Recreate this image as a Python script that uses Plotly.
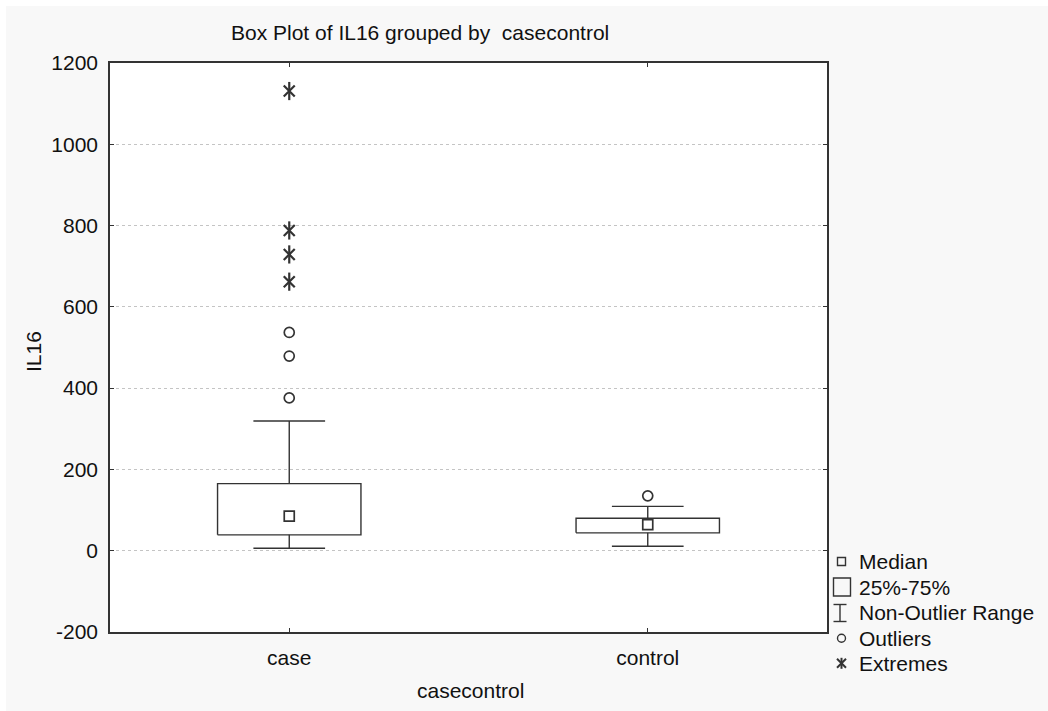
import plotly.graph_objects as go

# Group labels and summary statistics of IL16 per group
categories = ["case", "control"]
whisker_low = [6, 11]
q1 = [39, 44]
median = [85, 64]
q3 = [165, 80]
whisker_high = [319, 109]
outliers = {"case": [376, 479, 537], "control": [135]}
extremes = {"case": [662, 729, 788, 1131], "control": []}

y_ticks = [-200, 0, 200, 400, 600, 800, 1000, 1200]
y_tick_text = ["-200", "0", "200", "400", "600", "800", "1000", "1200"]

INK = "#333333"
TXT = "#111111"
FONT = "Liberation Sans, Arial, sans-serif"
FS = 21
BOX_HALF = 0.2   # half box width in category units
CAP_HALF = 0.1   # half whisker cap width

# plot-area geometry in pixels
W, H = 1048, 711
L, R, T, B = 110, 827, 63, 632


def px_x(px):
    return (px - L) / (R - L)


def px_y(py):
    return (B - py) / (B - T)


fig = go.Figure()

# boxes (25%-75%) and whiskers with caps
bx, by, wx, wy = [], [], [], []
for i, c in enumerate(categories):
    bx += [i - BOX_HALF, i + BOX_HALF, i + BOX_HALF, i - BOX_HALF, i - BOX_HALF, None]
    by += [q1[i], q1[i], q3[i], q3[i], q1[i], None]
    wx += [i, i, None, i, i, None,
           i - CAP_HALF, i + CAP_HALF, None, i - CAP_HALF, i + CAP_HALF, None]
    wy += [q3[i], whisker_high[i], None, q1[i], whisker_low[i], None,
           whisker_high[i], whisker_high[i], None, whisker_low[i], whisker_low[i], None]

fig.add_trace(go.Scatter(x=wx, y=wy, mode="lines", line=dict(color=INK, width=1.4),
                         hoverinfo="skip", showlegend=False))
fig.add_trace(go.Scatter(x=bx, y=by, mode="lines", line=dict(color=INK, width=1.4),
                         hoverinfo="skip", showlegend=False))

# medians
fig.add_trace(go.Scatter(
    x=list(range(len(categories))), y=median, mode="markers",
    marker=dict(symbol="square-open", size=10, color=INK, line=dict(width=1.7, color=INK)),
    showlegend=False))

# outliers
ox, oy = [], []
for i, c in enumerate(categories):
    ox += [i] * len(outliers[c])
    oy += outliers[c]
fig.add_trace(go.Scatter(
    x=ox, y=oy, mode="markers",
    marker=dict(symbol="circle-open", size=10, color=INK, line=dict(width=1.7, color=INK)),
    showlegend=False))

# extremes (six-armed asterisk)
ex, ey = [], []
for i, c in enumerate(categories):
    ex += [i] * len(extremes[c])
    ey += extremes[c]
for sym, sz in (("x-thin-open", 11), ("line-ns-open", 13)):
    fig.add_trace(go.Scatter(
        x=ex, y=ey, mode="markers",
        marker=dict(symbol=sym, size=sz, color=INK, line=dict(width=2.2, color=INK)),
        showlegend=False))

shapes = []
annotations = []

# white strips along top and left page edges
shapes.append(dict(type="rect", xref="paper", yref="paper", layer="above",
                   x0=px_x(0), x1=px_x(6), y0=px_y(W), y1=px_y(0),
                   fillcolor="white", line=dict(width=0)))
shapes.append(dict(type="rect", xref="paper", yref="paper", layer="above",
                   x0=px_x(0), x1=px_x(W), y0=px_y(6), y1=px_y(0),
                   fillcolor="white", line=dict(width=0)))

# legend key
lg = dict(xref="paper", yref="paper", layer="above", line=dict(color=INK, width=1.4))
shapes.append(dict(type="rect", x0=px_x(837.5), x1=px_x(845.5), y0=px_y(565.5), y1=px_y(557.5), **lg))
shapes.append(dict(type="rect", x0=px_x(833.5), x1=px_x(850.5), y0=px_y(596), y1=px_y(578), **lg))
shapes.append(dict(type="line", x0=px_x(840), x1=px_x(840), y0=px_y(621.5), y1=px_y(604.5), **lg))
shapes.append(dict(type="line", x0=px_x(833.5), x1=px_x(846.5), y0=px_y(604.5), y1=px_y(604.5), **lg))
shapes.append(dict(type="line", x0=px_x(833.5), x1=px_x(846.5), y0=px_y(621.5), y1=px_y(621.5), **lg))
shapes.append(dict(type="circle", x0=px_x(837.5), x1=px_x(845.5), y0=px_y(642.3), y1=px_y(634.3), **lg))
ax_c, ay_c = 841.5, 663.3
for dx, dy in ((0, 5.5), (4.5, 4.5), (4.5, -4.5)):
    shapes.append(dict(type="line", x0=px_x(ax_c - dx), x1=px_x(ax_c + dx),
                       y0=px_y(ay_c - dy), y1=px_y(ay_c + dy),
                       xref="paper", yref="paper", layer="above",
                       line=dict(color=INK, width=2)))

legend_items = [("Median", 561.5), ("25%-75%", 587), ("Non-Outlier Range", 612.5),
                ("Outliers", 638), ("Extremes", 663.5)]
for text, yy in legend_items:
    annotations.append(dict(text=text, x=px_x(857), y=px_y(yy), xref="paper", yref="paper",
                            xanchor="left", yanchor="middle", showarrow=False,
                            font=dict(size=FS, color=TXT, family=FONT)))

# titles
annotations.append(dict(text="Box Plot of IL16 grouped by\u00a0 casecontrol",
                        x=px_x(229), y=px_y(32), xref="paper", yref="paper",
                        xanchor="left", yanchor="middle", showarrow=False,
                        font=dict(size=FS, color=TXT, family=FONT)))
annotations.append(dict(text="casecontrol", x=px_x(470), y=px_y(690), xref="paper", yref="paper",
                        xanchor="center", yanchor="middle", showarrow=False,
                        font=dict(size=FS, color=TXT, family=FONT)))
annotations.append(dict(text="IL16", x=px_x(33), y=px_y(352), xref="paper", yref="paper",
                        xanchor="center", yanchor="middle", showarrow=False, textangle=-90,
                        font=dict(size=FS, color=TXT, family=FONT)))

fig.update_layout(
    width=W, height=H,
    margin=dict(l=L, r=W - R, t=T, b=H - B),
    paper_bgcolor="#f8f8f8",
    plot_bgcolor="white",
    font=dict(family=FONT, size=FS, color=TXT),
    showlegend=False,
    shapes=shapes,
    annotations=annotations,
    xaxis=dict(range=[-0.5, 1.5], tickmode="array", tickvals=list(range(len(categories))),
               ticktext=categories, showgrid=False, zeroline=False,
               showline=True, linecolor=INK, linewidth=1.5, mirror="allticks",
               ticks="inside", ticklen=4, tickcolor=INK, tickwidth=1,
               ticklabelstandoff=6),
    yaxis=dict(range=[-200, 1200], tickmode="array", tickvals=y_ticks, ticktext=y_tick_text,
               showgrid=True, gridcolor="#c4c4c4", griddash="dot", gridwidth=1,
               zeroline=False, showline=True, linecolor=INK, linewidth=1.5,
               mirror="allticks", ticks="inside", ticklen=4, tickcolor=INK, tickwidth=1,
               ticklabelstandoff=6),
)

fig.write_html("out.html")
